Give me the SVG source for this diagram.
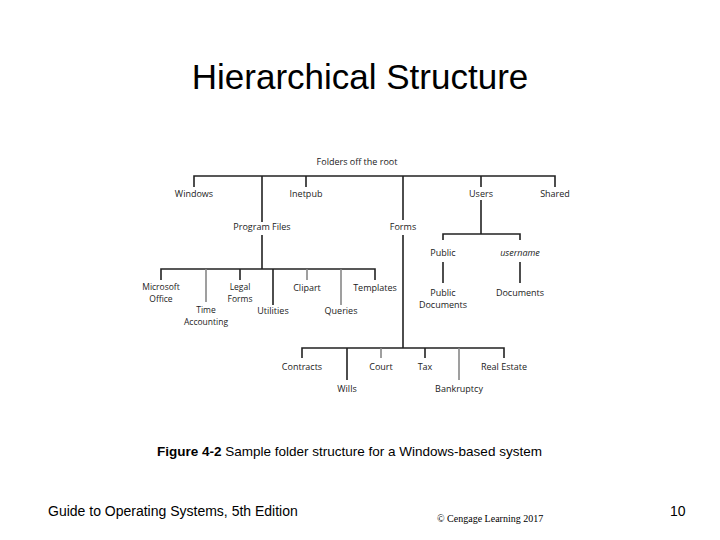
<svg xmlns="http://www.w3.org/2000/svg" width="720" height="540" viewBox="0 0 720 540">
<style>
.n{font-family:"Open Sans","Liberation Sans",sans-serif;font-size:9px;fill:#222;text-anchor:middle}
.s{font-size:8.5px}
.l{stroke:#222;stroke-width:1.6;fill:none}
.g{stroke:#888;stroke-width:1.6;fill:none}
</style>
<rect width="720" height="540" fill="#fff"/>
<text x="360" y="89" font-family="Liberation Sans,sans-serif" font-size="35" text-anchor="middle">Hierarchical Structure</text>
<g id="connectors">
<path class="l" d="M194 187V176H555V187M306 176V187M481 176V187M262 176V222M403 176V220M403 235V348"/>
<path class="l" d="M481 200V234M443 240V234H520V240M443 262V283M520 262V283"/>
<path class="l" d="M262 235V269M161 280V269H375V280M240 269V280M273 269V305"/>
<path class="g" d="M206 269V302M307 269V280M341 269V305"/>
<path class="l" d="M302 358V348H504V358M347 348V380M425 348V358"/>
<path class="g" d="M381 348V358M459 348V380"/>
</g>
<g id="root"><text class="n" x="357" y="165">Folders off the root</text></g>
<g id="windows"><text class="n" x="194" y="197">Windows</text></g>
<g id="inetpub"><text class="n" x="306" y="197">Inetpub</text></g>
<g id="users"><text class="n" x="481" y="197">Users</text></g>
<g id="shared"><text class="n" x="555" y="197">Shared</text></g>
<g id="programfiles"><text class="n" x="262" y="230">Program Files</text></g>
<g id="forms"><text class="n" x="403" y="230">Forms</text></g>
<g id="public"><text class="n" x="443" y="256">Public</text></g>
<g id="username"><text class="n" x="520" y="256" font-style="italic">username</text></g>
<g id="publicdocs"><text class="n" x="443" y="296">Public</text><text class="n" x="443" y="308">Documents</text></g>
<g id="documents"><text class="n" x="520" y="296">Documents</text></g>
<g id="msoffice"><text class="n s" x="161" y="290">Microsoft</text><text class="n s" x="161" y="302">Office</text></g>
<g id="time"><text class="n s" x="206" y="313">Time</text><text class="n s" x="206" y="325">Accounting</text></g>
<g id="legal"><text class="n s" x="240" y="290">Legal</text><text class="n s" x="240" y="302">Forms</text></g>
<g id="utilities"><text class="n" x="273" y="314">Utilities</text></g>
<g id="clipart"><text class="n" x="307" y="291">Clipart</text></g>
<g id="queries"><text class="n" x="341" y="314">Queries</text></g>
<g id="templates"><text class="n" x="375" y="291">Templates</text></g>
<g id="contracts"><text class="n" x="302" y="370">Contracts</text></g>
<g id="wills"><text class="n" x="347" y="392">Wills</text></g>
<g id="court"><text class="n" x="381" y="370">Court</text></g>
<g id="tax"><text class="n" x="425" y="370">Tax</text></g>
<g id="bankruptcy"><text class="n" x="459" y="392">Bankruptcy</text></g>
<g id="realestate"><text class="n" x="504" y="370">Real Estate</text></g>
<text x="157" y="456" font-family="Liberation Sans,sans-serif" font-size="13.5"><tspan font-weight="bold">Figure 4-2</tspan>  Sample folder structure for a Windows-based system</text>
<text x="48" y="516" font-family="Liberation Sans,sans-serif" font-size="14">Guide to Operating Systems, 5th Edition</text>
<text x="437" y="522" font-family="Liberation Serif,serif" font-size="10">© Cengage Learning  2017</text>
<text x="670" y="516" font-family="Liberation Sans,sans-serif" font-size="14">10</text>
</svg>
